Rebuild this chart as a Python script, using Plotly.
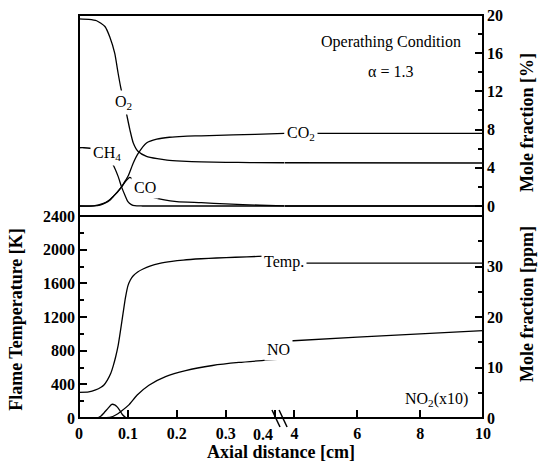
import plotly.graph_objects as go

# ---------------- data ----------------
# top panel: mole fraction [%], near-field segment (0 - 0.42 cm)
O2_x = [0, 0.02, 0.036, 0.053, 0.063, 0.073, 0.080, 0.085, 0.091, 0.097, 0.104, 0.111,
        0.121, 0.138, 0.16, 0.18, 0.21, 0.25, 0.30, 0.35, 0.42]
O2_y = [19.6, 19.55, 19.4, 18.8, 17.7, 16.0, 13.9, 12.5, 11.1, 9.7, 8.0, 6.6,
        5.7, 5.2, 4.95, 4.8, 4.7, 4.62, 4.57, 4.55, 4.53]
CO2_x = [0, 0.03, 0.043, 0.053, 0.063, 0.07, 0.078, 0.087, 0.093, 0.101, 0.111, 0.121,
         0.138, 0.159, 0.185, 0.213, 0.25, 0.315, 0.36, 0.42]
CO2_y = [0, 0.02, 0.1, 0.3, 0.6, 1.0, 1.4, 2.0, 2.5, 3.2, 4.5, 5.5,
         6.6, 7.0, 7.2, 7.3, 7.35, 7.45, 7.5, 7.6]
CH4_x = [0, 0.01, 0.03, 0.05, 0.06, 0.07, 0.08, 0.087, 0.095, 0.1, 0.107, 0.114, 0.13, 0.42]
CH4_y = [6.1, 6.1, 6.0, 5.6, 5.1, 4.3, 3.1, 2.0, 1.0, 0.45, 0.15, 0.03, 0, 0]
CO_x = [0, 0.03, 0.05, 0.06, 0.07, 0.078, 0.087, 0.097, 0.104, 0.112, 0.125, 0.14,
        0.155, 0.2, 0.25, 0.3, 0.37, 0.42]
CO_y = [0, 0.02, 0.28, 0.55, 1.0, 1.45, 2.0, 2.7, 3.0, 2.7, 1.8, 1.15,
        0.84, 0.45, 0.35, 0.22, 0.08, 0.02]
# top panel, far-field segment (4 - 10 cm)
FAR_x = [3.68, 10]
O2_far = [4.53, 4.5]
CO2_far = [7.6, 7.6]
CH4_far = [0, 0]
CO_far = [0, 0]

# bottom panel: flame temperature [K]
T_x = [0, 0.02, 0.034, 0.045, 0.051, 0.058, 0.065, 0.070, 0.075, 0.080, 0.085, 0.090,
       0.095, 0.100, 0.105, 0.111, 0.12, 0.131, 0.145, 0.165, 0.19, 0.213, 0.25, 0.281,
       0.32, 0.366, 0.42]
T_y = [305, 310, 333, 365, 392, 450, 531, 620, 728, 860, 1045, 1240,
       1430, 1570, 1640, 1690, 1735, 1770, 1805, 1838, 1862, 1877, 1892, 1901,
       1910, 1920, 1930]
T_far = [1840, 1840]
# bottom panel: NO and NO2(x10) [ppm]
NO_x = [0, 0.03, 0.05, 0.065, 0.075, 0.085, 0.102, 0.119, 0.143, 0.177, 0.218, 0.273,
        0.327, 0.378, 0.42]
NO_y = [0, 0, 0.02, 0.15, 0.6, 1.25, 2.6, 4.55, 6.5, 8.2, 9.4, 10.4, 11.0, 11.4, 11.7]
NO_far_x = [3.68, 6, 10]
NO_far = [15.2, 16.0, 17.3]
NO2_x = [0, 0.037, 0.045, 0.051, 0.06, 0.067, 0.073, 0.078, 0.084, 0.089, 0.095, 0.099, 0.42]
NO2_y = [0, 0, 0.4, 1.0, 2.0, 2.7, 2.6, 2.2, 1.4, 0.65, 0.15, 0, 0]

# tick labels
near_ticks = [0, 0.1, 0.2, 0.3, 0.4]
near_ticktext = ["0", "0.1", "0.2", "0.3", ""]
far_ticks = [4, 6, 8, 10]
temp_ticks = [0, 400, 800, 1200, 1600, 2000, 2400]
ppm_ticks = [0, 10, 20, 30]
pct_ticks = [0, 4, 8, 12, 16, 20]

# ---------------- figure ----------------
SERIF = "Liberation Serif"
D = 0.5084   # split between near and far x segments
YS = 0.5012  # split between lower and upper panels

fig = go.Figure()
LINE = dict(color="black", width=1.3, shape="spline", smoothing=0.6)


def add(xs, ys, xa, ya):
    fig.add_trace(go.Scatter(x=xs, y=ys, mode="lines", line=LINE,
                             xaxis=xa, yaxis=ya, hoverinfo="skip", showlegend=False))


# top panel
add(O2_x, O2_y, "x3", "y3")
add(CO2_x, CO2_y, "x3", "y3")
add(CH4_x, CH4_y, "x3", "y3")
add(CO_x, CO_y, "x3", "y3")
add(FAR_x, O2_far, "x4", "y3")
add(FAR_x, CO2_far, "x4", "y3")
add(FAR_x, CH4_far, "x4", "y3")
add(FAR_x, CO_far, "x4", "y3")
# bottom panel
add(T_x, T_y, "x", "y")
add(FAR_x, T_far, "x2", "y")
add(NO_x, NO_y, "x", "y2")
add(NO_far_x, NO_far, "x2", "y2")
add(NO2_x, NO2_y, "x", "y2")
add(FAR_x, [0, 0], "x2", "y2")

tickfont = dict(family=SERIF, size=16, color="black", weight="bold")
common = dict(showgrid=False, zeroline=False, showline=False, tickfont=tickfont,
              ticks="inside", ticklen=8, tickwidth=2, tickcolor="black",
              automargin=False)

fig.update_layout(
    width=544, height=468,
    margin=dict(l=79, r=61, t=15, b=50, pad=0, autoexpand=False),
    plot_bgcolor="white", paper_bgcolor="white",
    showlegend=False,
    xaxis=dict(domain=[0, D], range=[0, 0.42], anchor="y", tickmode="array",
               tickvals=near_ticks, ticktext=near_ticktext, ticklabelstandoff=4, **common),
    xaxis2=dict(domain=[D, 1], range=[3.68, 10], anchor="y", tickmode="array",
                tickvals=far_ticks, ticklabelstandoff=4, **common),
    xaxis3=dict(domain=[0, D], range=[0, 0.42], anchor="y3", showgrid=False,
                zeroline=False, showline=False, showticklabels=False, ticks=""),
    xaxis4=dict(domain=[D, 1], range=[3.68, 10], anchor="y3", showgrid=False,
                zeroline=False, showline=False, showticklabels=False, ticks=""),
    yaxis=dict(domain=[0, YS], range=[0, 2400], anchor="x", side="left",
               tickmode="array", tickvals=temp_ticks, ticklabelstandoff=3,
               minor=dict(tickmode="linear", tick0=0, dtick=200, ticks="inside",
                          ticklen=5, tickwidth=1.5, tickcolor="black"),
               **common),
    yaxis2=dict(overlaying="y", range=[0, 40], anchor="x2", side="right",
                tickmode="array", tickvals=ppm_ticks, ticklabelstandoff=3,
                minor=dict(tickmode="linear", tick0=0, dtick=5, ticks="inside",
                           ticklen=5, tickwidth=1.5, tickcolor="black"),
                **common),
    yaxis3=dict(domain=[YS, 1], range=[-1.05, 20], anchor="x4", side="right",
                tickmode="array", tickvals=pct_ticks, ticklabelstandoff=3,
                minor=dict(tickmode="linear", tick0=0, dtick=2, ticks="inside",
                           ticklen=5, tickwidth=1.5, tickcolor="black"),
                **common),
)

# frames and axis-break marks
fig.add_shape(type="rect", xref="paper", yref="paper", x0=0, x1=1, y0=YS, y1=1,
              line=dict(color="black", width=2))
fig.add_shape(type="rect", xref="paper", yref="paper", x0=0, x1=1, y0=0, y1=YS,
              line=dict(color="black", width=2))
for dx in (0.0, 0.0175):
    fig.add_shape(type="line", xref="paper", yref="paper",
                  x0=0.4777 + dx, y0=0.0199, x1=0.4975 + dx, y1=-0.0223,
                  line=dict(color="black", width=1.5))

lab = dict(family=SERIF, size=16, color="black")


def note(text, x, y, xref, yref, bg=True, **kw):
    fig.add_annotation(text=text, x=x, y=y, xref=xref, yref=yref, showarrow=False,
                       xanchor="center", yanchor="middle",
                       font=lab, bgcolor="white" if bg else "rgba(0,0,0,0)",
                       borderpad=2, **kw)


# in-plot curve labels
note("O<sub>2</sub>", 0.090, 10.8, "x3", "y3")
note("CH<sub>4</sub>", 0.057, 5.45, "x3", "y3")
note("CO", 0.135, 1.94, "x3", "y3")
note("CO<sub>2</sub>", 4.21, 7.6, "x4", "y3")
note("Temp.", 0.5074, 0.387, "paper", "paper")
note("NO", 0.493, 0.169, "paper", "paper")
note("NO<sub>2</sub>(x10)", 8.52, 3.6, "x2", "y2", bg=False)
note("Operathing Condition", 0.772, 0.933, "paper", "paper", bg=False)
note("\u03b1 = 1.3", 0.772, 0.859, "paper", "paper", bg=False)


def title(text, x, y, angle=0, size=18, bold=True):
    fig.add_annotation(text=f"<b>{text}</b>" if bold else text, x=x, y=y,
                       xref="paper", yref="paper", showarrow=False,
                       xanchor="center", yanchor="middle", textangle=angle,
                       font=dict(family=SERIF, size=size, color="black"))


# 0.4 tick label shifted left of the break
title("0.4", 0.455, -0.040, size=16)

# axis titles
title("Axial distance [cm]", 0.5, -0.084)
title("Flame Temperature [K]", -0.156, 0.246, angle=-90)
title("Mole fraction [%]", 1.109, 0.732, angle=-90)
title("Mole fraction [ppm]", 1.109, 0.283, angle=-90)

fig.write_html("out.html")
